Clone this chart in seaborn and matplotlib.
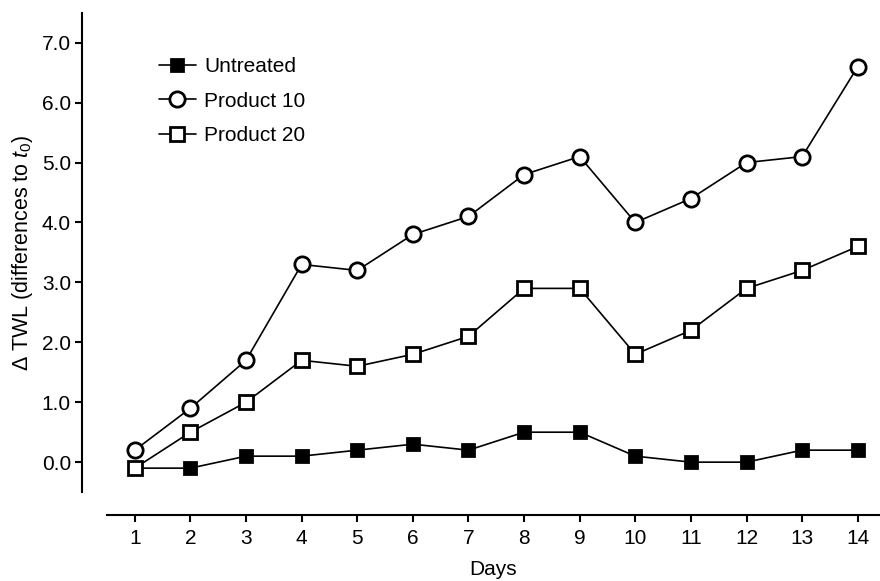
import matplotlib
matplotlib.use("Agg")
import matplotlib.pyplot as plt
import seaborn as sns
import pandas as pd
from matplotlib.ticker import FormatStrFormatter

days = list(range(1, 15))
untreated = [-0.1, -0.1, 0.1, 0.1, 0.2, 0.3, 0.2, 0.5, 0.5, 0.1, 0.0, 0.0, 0.2, 0.2]
product10 = [0.2, 0.9, 1.7, 3.3, 3.2, 3.8, 4.1, 4.8, 5.1, 4.0, 4.4, 5.0, 5.1, 6.6]
product20 = [-0.1, 0.5, 1.0, 1.7, 1.6, 1.8, 2.1, 2.9, 2.9, 1.8, 2.2, 2.9, 3.2, 3.6]
series_names = ["Untreated", "Product 10", "Product 20"]
y_ticks = [0.0, 1.0, 2.0, 3.0, 4.0, 5.0, 6.0, 7.0]

sns.set_style("ticks")
plt.rcParams["font.family"] = ["Liberation Sans", "DejaVu Sans"]
plt.rcParams["mathtext.fontset"] = "custom"
plt.rcParams["mathtext.rm"] = "Liberation Sans"
plt.rcParams["mathtext.it"] = "Liberation Sans:italic"
plt.rcParams["text.color"] = "black"
plt.rcParams["axes.labelcolor"] = "black"

df = pd.DataFrame({
    "Days": days * 3,
    "value": untreated + product10 + product20,
    "series": [n for n in series_names for _ in days],
})

fig = plt.figure(figsize=(8.8, 5.81), dpi=100)
ax = fig.add_axes([0.1216, 0.153, 0.8784, 0.825])

styles = {
    "Untreated": dict(marker="s", markersize=8, markerfacecolor="black"),
    "Product 10": dict(marker="o", markersize=11, markerfacecolor="white"),
    "Product 20": dict(marker="s", markersize=9.5, markerfacecolor="white"),
}
for name in series_names:
    sub = df[df["series"] == name]
    sns.lineplot(data=sub, x="Days", y="value", ax=ax, color="black",
                 linewidth=1.2, markeredgecolor="black", markeredgewidth=2.0,
                 label=name, **styles[name])

ax.set_xlim(0.5, 14.4)
ax.set_ylim(-0.5, 7.5)
ax.set_xticks(days)
ax.set_yticks(y_ticks)
ax.yaxis.set_major_formatter(FormatStrFormatter("%.1f"))

sns.despine(ax=ax, offset={"left": 18, "bottom": 16.5})
for side in ("left", "bottom"):
    ax.spines[side].set_linewidth(1.5)
    ax.spines[side].set_color("black")
ax.tick_params(axis="both", direction="out", length=5, width=1.5,
               labelsize=15, colors="black")
ax.tick_params(axis="x", pad=5)
ax.tick_params(axis="y", pad=3)

ax.set_xlabel("Days", fontsize=15, labelpad=9)
ax.set_ylabel(r"$\Delta$ TWL (differences to $t_0$)", fontsize=15.5, labelpad=5)

leg = ax.legend(loc="upper left", bbox_to_anchor=(0.0425, 0.947), frameon=False,
                fontsize=15, handlelength=1.8, handletextpad=0.4,
                labelspacing=0.75, borderpad=0.4)

fig.savefig("out.png", dpi=100)
